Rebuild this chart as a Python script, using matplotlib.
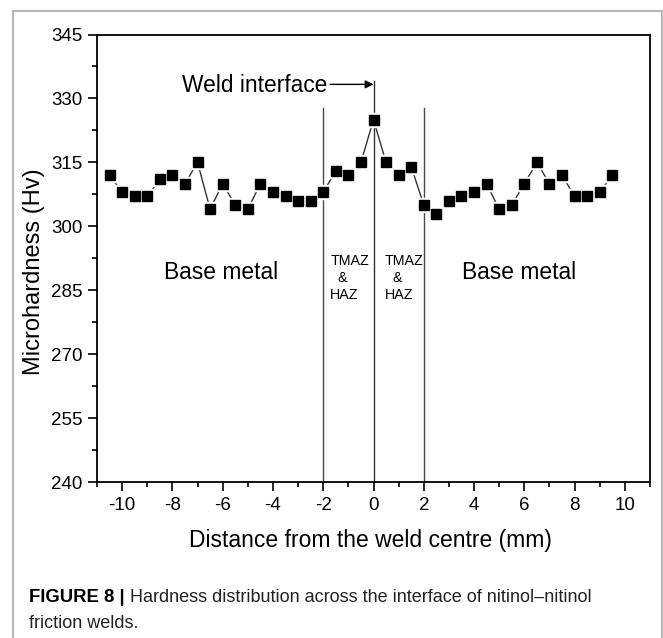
import numpy as np
import matplotlib
matplotlib.use("Agg")
import matplotlib.pyplot as plt
from matplotlib.patches import Rectangle
from matplotlib.ticker import MultipleLocator

plt.rcParams['font.family'] = ['Liberation Sans', 'DejaVu Sans']
plt.rcParams['axes.unicode_minus'] = False

# hardness readings every 0.5 mm across the weld
distance = np.arange(-10.5, 9.51, 0.5)
hardness = [312, 308, 307, 307, 311, 312, 310, 315, 304, 310, 305, 304, 310, 308,
            307, 306, 306, 308, 313, 312, 315, 325, 315, 312, 314, 305, 303, 306,
            307, 308, 310, 304, 305, 310, 315, 310, 312, 307, 307, 308, 312]
zone_lines = [-2, 0, 2]

fig = plt.figure(figsize=(6.63, 6.38), dpi=100)
ax = fig.add_axes([97 / 663, 1 - 482 / 638, 553 / 663, 447.5 / 638])

# grey frame round the figure (open at the bottom)
fig.patches.append(Rectangle((13 / 663, -0.1), 649 / 663, 1.1 - 11 / 638,
                             transform=fig.transFigure, fill=False,
                             edgecolor='#b8b8b8', lw=1.6, zorder=0))

# zone boundaries
ax.plot([zone_lines[0]] * 2, [240, 327.7], color='#4a4a4a', lw=1.0)
ax.plot([zone_lines[1]] * 2, [240, 334.2], color='#333333', lw=1.0)
ax.plot([zone_lines[2]] * 2, [240, 327.7], color='#4a4a4a', lw=1.0)

# data: line with gaps at the markers, like Origin does
ax.plot(distance, hardness, color='#333333', lw=1.0, zorder=3)
ax.plot(distance, hardness, ls='none', marker='s', ms=10.5, mfc='white',
        mec='white', zorder=4)
ax.plot(distance, hardness, ls='none', marker='s', ms=6.8, mfc='black',
        mec='black', zorder=5)

ax.set_xlim(-11, 11)
ax.set_ylim(240, 345)
ax.xaxis.set_major_locator(MultipleLocator(2))
ax.xaxis.set_minor_locator(MultipleLocator(1))
ax.yaxis.set_major_locator(MultipleLocator(15))
ax.yaxis.set_minor_locator(MultipleLocator(7.5))
ax.tick_params(which='both', direction='out', width=1.2, labelsize=13.5,
               top=False, right=False)
ax.tick_params(which='major', length=6.5, pad=4)
ax.tick_params(which='minor', length=3.6)
for s in ax.spines.values():
    s.set_linewidth(1.3)

ax.set_xlabel('Distance from the weld centre (mm)', fontsize=16.5, va='center')
ax.xaxis.set_label_coords(0.494, -0.13)
ax.set_ylabel('Microhardness (Hv)', fontsize=17, va='center')
ax.yaxis.set_label_coords(-0.114, 0.47)

# annotations
ax.annotate('', xy=(0, 333.3), xytext=(-1.72, 333.3),
            arrowprops=dict(arrowstyle='-|>', color='black', lw=1.0,
                            mutation_scale=12, shrinkA=0, shrinkB=0))
ax.text(-1.85, 331.4, 'Weld interface', fontsize=16.4, ha='right', va='baseline')
ax.text(-6.08, 287.6, 'Base metal', fontsize=16.4, ha='center', va='baseline')
ax.text(5.8, 287.6, 'Base metal', fontsize=16.4, ha='center', va='baseline')
ax.text(-1.72, 293.6, 'TMAZ\n  &\nHAZ', fontsize=10.3, ha='left', va='top',
        linespacing=1.3)
ax.text(0.45, 293.6, 'TMAZ\n  &\nHAZ', fontsize=10.3, ha='left', va='top',
        linespacing=1.3)

# caption
fig.text(29 / 663, 1 - 597 / 638, 'FIGURE 8 |', fontsize=13.3, fontweight='bold',
         va='center')
fig.text(130 / 663, 1 - 597 / 638,
         'Hardness distribution across the interface of nitinol\u2013nitinol',
         fontsize=13, va='center', color='#222222')
fig.text(29 / 663, 1 - 623 / 638, 'friction welds.', fontsize=13, va='center',
         color='#222222')

fig.savefig('out.png', dpi=100)
